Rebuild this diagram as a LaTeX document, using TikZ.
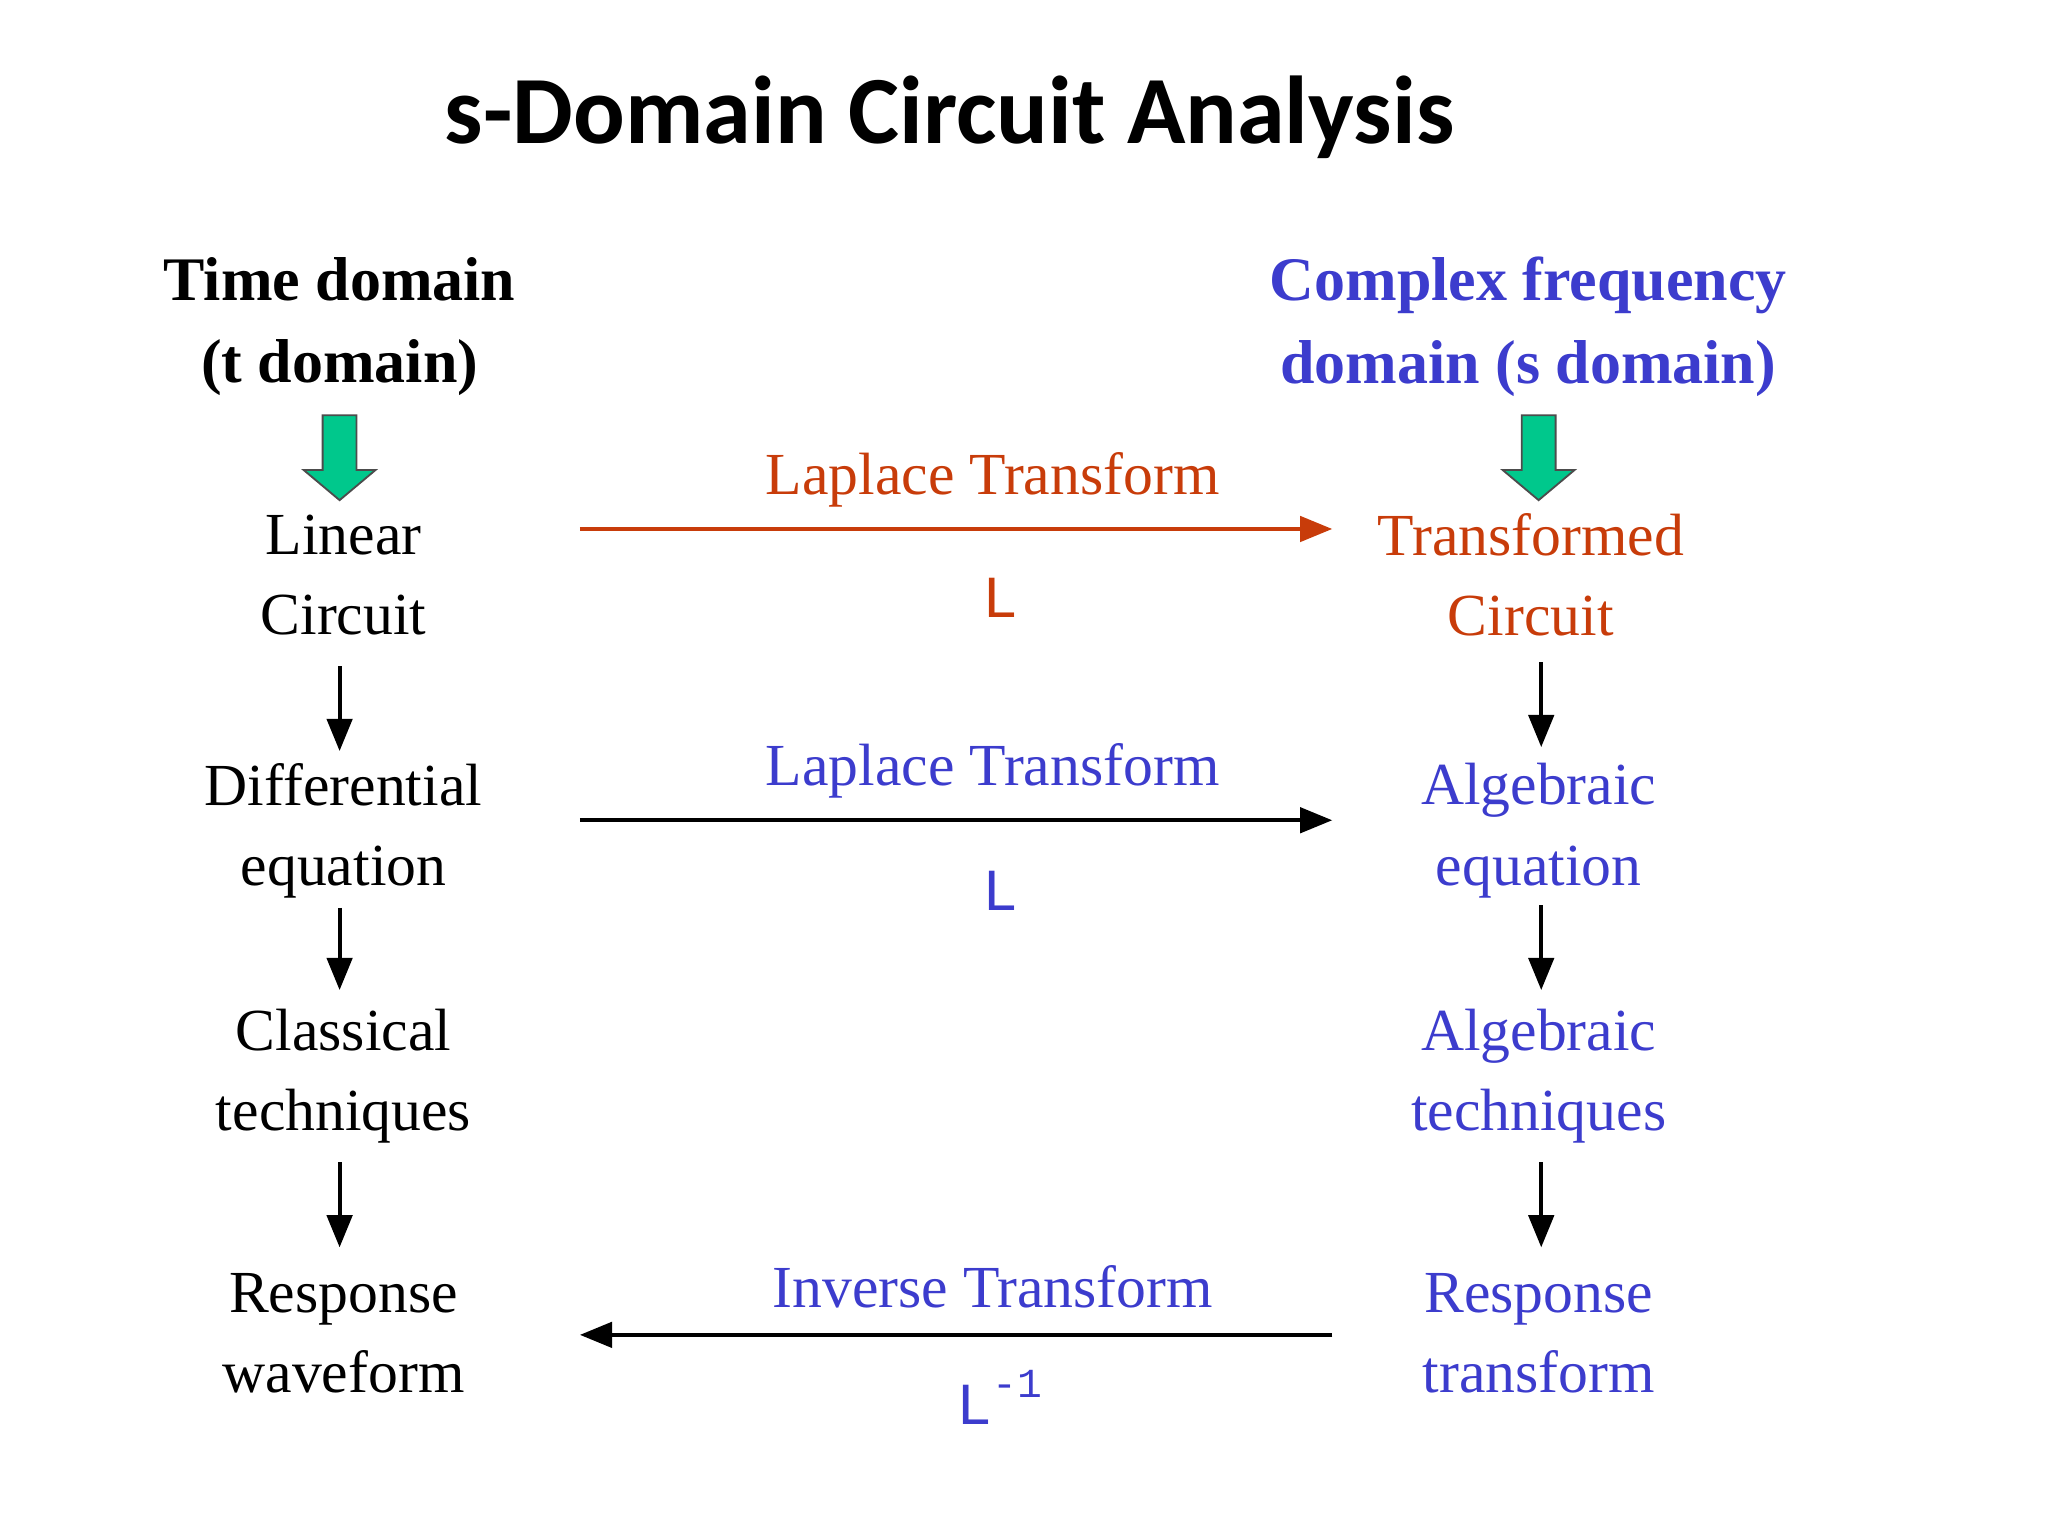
\documentclass[tikz,border=0pt]{standalone}
\usepackage{fontspec}
\setmainfont{Liberation Serif}
\newfontfamily\titlefont{Carlito}
\newfontfamily\monof{Liberation Mono}
\usetikzlibrary{arrows.meta,shapes.arrows}
\definecolor{myblue}{RGB}{60,60,205}
\definecolor{myorange}{RGB}{200,60,10}
\definecolor{mygreen}{RGB}{0,200,140}
\begin{document}
\begin{tikzpicture}[x=0.02cm,y=-0.02cm,
  txt/.style={align=center,font=\fontsize{26}{35}\selectfont,inner sep=0pt},
  hdr/.style={align=center,font=\fontsize{27}{36}\selectfont\bfseries,inner sep=0pt},
  lbl/.style={font=\fontsize{26}{30}\selectfont,inner sep=0pt},
  mono/.style={font=\fontsize{26}{30}\monof,inner sep=0pt},
  arr/.style={line width=1.7pt,-{Triangle[length=14pt,width=11pt]}},
  garrow/.style={single arrow,shape border rotate=270,draw=black!70,fill=mygreen,line width=0.8pt,minimum height=1.3cm,minimum width=1.1cm,single arrow head extend=0.15cm,single arrow tip angle=100,inner sep=0.12cm}]
\useasboundingbox (0,0) rectangle (1568,1176);
\node (title) at (727,90) {\titlefont\bfseries\fontsize{42}{50}\selectfont s-Domain Circuit Analysis};
\node[hdr] (th) at (260,250) {Time domain\\(t domain)};
\node[hdr,text=myblue] (sh) at (1170,250) {Complex frequency\\domain (s domain)};
\node[garrow] (g1) at (260,345) {};
\node[garrow] (g2) at (1178,345) {};
\node[txt] (a1) at (263,440) {Linear\\Circuit};
\node[txt] (a2) at (263,636) {Differential\\equation};
\node[txt] (a3) at (263,824) {Classical\\techniques};
\node[txt] (a4) at (263,1021) {Response\\waveform};
\node[txt,text=myorange] (b1) at (1172,440) {Transformed\\Circuit};
\node[txt,text=myblue] (b2) at (1178,636) {Algebraic\\equation};
\node[txt,text=myblue] (b3) at (1178,824) {Algebraic\\techniques};
\node[txt,text=myblue] (b4) at (1178,1021) {Response\\transform};
\coordinate (l1s) at (444,405); \coordinate (l1e) at (1020,405);
\coordinate (l2s) at (444,628); \coordinate (l2e) at (1020,628);
\coordinate (l3s) at (1020,1022); \coordinate (l3e) at (444,1022);
\draw[arr,myorange] (l1s) -- (l1e);
\draw[arr] (l2s) -- (l2e);
\draw[arr] (l3s) -- (l3e);
\node[lbl,text=myorange] at (760,367) {Laplace Transform};
\node[mono,text=myorange] at (766,458) {L};
\node[lbl,text=myblue] at (760,590) {Laplace Transform};
\node[mono,text=myblue] at (766,682) {L};
\node[lbl,text=myblue] at (760,985) {Inverse Transform};
\node[mono,text=myblue] at (765,1070) {L\raisebox{0.45em}{\fontsize{18}{20}\selectfont -1}};
\draw[arr] (260,510) -- (260,575);
\draw[arr] (260,695) -- (260,758);
\draw[arr] (260,890) -- (260,955);
\draw[arr] (1180,507) -- (1180,572);
\draw[arr] (1180,693) -- (1180,758);
\draw[arr] (1180,890) -- (1180,955);
\end{tikzpicture}
\end{document}
